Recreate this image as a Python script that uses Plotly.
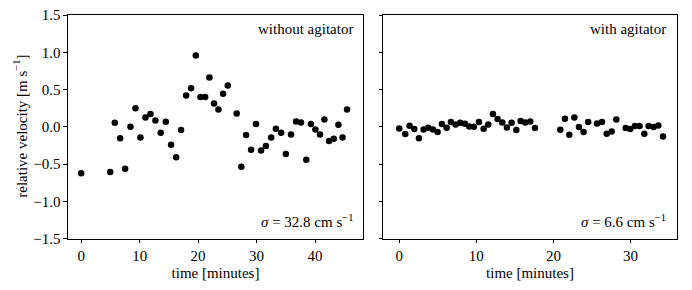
import plotly.graph_objects as go

# without agitator
t_without = [0, 4.96, 5.75, 6.67, 7.52, 8.43, 9.29, 10.14, 11.0, 11.85, 12.7, 13.6, 14.47, 15.38,
             16.24, 17.09, 17.95, 18.8, 19.6, 20.4, 21.2, 21.94, 22.73, 23.48, 24.27, 25.07, 26.6,
             27.4, 28.2, 29.06, 29.9, 30.77, 31.6, 32.5, 33.3, 34.2, 35.0, 35.9, 36.75, 37.6, 38.5,
             39.3, 40.06, 40.85, 41.6, 42.4, 43.2, 43.99, 44.7, 45.47]
v_without = [-0.625, -0.607, 0.054, -0.156, -0.5625, 0.0, 0.25, -0.143, 0.125, 0.17, 0.085, -0.08,
             0.067, -0.24, -0.41, -0.045, 0.42, 0.518, 0.955, 0.40, 0.40, 0.66, 0.3125, 0.232, 0.442,
             0.553, 0.179, -0.536, -0.112, -0.308, 0.036, -0.32, -0.26, -0.143, -0.027, -0.08, -0.366,
             -0.103, 0.071, 0.058, -0.442, 0.036, -0.036, -0.103, 0.098, -0.192, -0.16, 0.027, -0.143,
             0.232]

# with agitator
t_with = [0, 0.78, 1.34, 1.95, 2.55, 3.16, 3.76, 4.37, 4.97, 5.53, 6.14, 6.7, 7.31, 7.91, 8.52, 9.08,
          9.68, 10.33, 10.94, 11.54, 12.15, 12.75, 13.36, 13.96, 14.57, 15.18, 15.74, 16.34, 16.99,
          17.6, 20.88, 21.49, 22.05, 22.7, 23.3, 23.9, 24.5, 25.64, 26.29, 26.9, 27.54, 28.15, 29.36,
          29.96, 30.57, 31.17, 31.78, 32.34, 32.99, 33.6, 34.2]
v_with = [-0.022, -0.098, 0.013, -0.031, -0.156, -0.036, -0.013, -0.036, -0.071, 0.036, -0.013,
          0.0625, 0.031, 0.054, 0.04, 0.004, 0.0, 0.0625, -0.027, 0.031, 0.17, 0.103, 0.058, -0.009,
          0.054, -0.045, 0.076, 0.058, 0.071, -0.018, -0.04, 0.107, -0.107, 0.125, -0.004, -0.071,
          0.0625, 0.045, 0.0625, -0.094, -0.0625, 0.098, -0.018, -0.031, 0.009, 0.009, -0.094, 0.009,
          -0.004, 0.018, -0.13]

panel_labels = ["without agitator", "with agitator"]
sigma_labels = ["<i>σ</i> = 32.8 cm s<sup>−1</sup>", "<i>σ</i> = 6.6 cm s<sup>−1</sup>"]
y_ticks = [-1.5, -1.0, -0.5, 0.0, 0.5, 1.0, 1.5]
y_ticktext = ["−1.5", "−1.0", "−0.5", "0.0", "0.5", "1.0", "1.5"]
x_label = "time [minutes]"
y_label = "relative velocity [m s<sup>−1</sup>]"

FONT = "Liberation Serif"
FS = 15
OFF = 8  # default page body margin
W, H = 692 - 2 * OFF, 290 - 2 * OFF

fig = go.Figure()
marker = dict(color="black", size=6.5)
fig.add_trace(go.Scatter(x=t_without, y=v_without, mode="markers", marker=marker,
                         xaxis="x", yaxis="y", showlegend=False))
fig.add_trace(go.Scatter(x=t_with, y=v_with, mode="markers", marker=marker,
                         xaxis="x2", yaxis="y2", showlegend=False))

def px_x(p):
    return (p - OFF) / W

def px_y(p):
    return 1 - (p - OFF) / H

ydom = [px_y(238.5), px_y(15)]
axis_common = dict(showgrid=False, zeroline=False, showline=True, linecolor="black", linewidth=1.2,
                   mirror=True, ticks="outside", ticklen=3.5, tickwidth=1, tickcolor="black",
                   automargin=False, ticklabeloverflow="allow",
                   tickfont=dict(family=FONT, size=FS, color="black"))

fig.update_layout(
    width=W, height=H,
    margin=dict(l=0, r=0, t=0, b=0, autoexpand=False),
    plot_bgcolor="white", paper_bgcolor="white",
    font=dict(family=FONT, color="black", size=FS),
    xaxis=dict(domain=[px_x(68), px_x(363)], range=[-2.25, 48.2], anchor="y",
               tickvals=[0, 10, 20, 30, 40],
               title=dict(text=x_label, font=dict(family=FONT, size=FS), standoff=4),
               **axis_common),
    yaxis=dict(domain=ydom, range=[-1.5, 1.5], anchor="x", tickvals=y_ticks, ticktext=y_ticktext,
               **axis_common),
    xaxis2=dict(domain=[px_x(383.3), px_x(676.7)], range=[-2.07, 35.98], anchor="y2",
                tickvals=[0, 10, 20, 30],
                title=dict(text=x_label, font=dict(family=FONT, size=FS), standoff=4),
                **axis_common),
    yaxis2=dict(domain=ydom, range=[-1.5, 1.5], anchor="x2", tickvals=y_ticks, showticklabels=False,
                **axis_common),
)

fig.add_annotation(text=y_label, textangle=-90, xref="paper", yref="paper",
                   x=px_x(20), y=px_y(126.7), showarrow=False, font=dict(family=FONT, size=FS),
                   xanchor="center", yanchor="middle")

for i, (xr, yr) in enumerate([("x domain", "y domain"), ("x2 domain", "y2 domain")]):
    fig.add_annotation(text=panel_labels[i], xref=xr, yref=yr, x=0.972, y=0.98, showarrow=False,
                       xanchor="right", yanchor="top", font=dict(family=FONT, size=FS))
    fig.add_annotation(text=sigma_labels[i], xref=xr, yref=yr, x=0.972, y=0.03, showarrow=False,
                       xanchor="right", yanchor="bottom", font=dict(family=FONT, size=FS))

fig.write_html("out.html")
